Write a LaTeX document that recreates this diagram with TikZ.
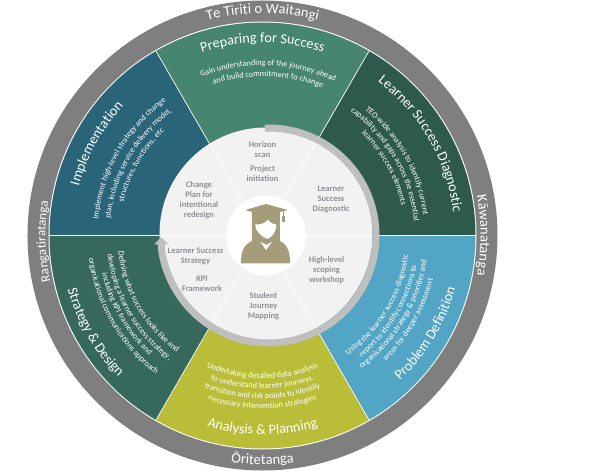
\documentclass[tikz,border=0pt]{standalone}
\usepackage{fontspec}
\usepackage{xcolor}
\usetikzlibrary{decorations.text,arrows.meta}
\setmainfont{Carlito}

\definecolor{ringgray}{HTML}{7F7F7F}
\definecolor{preparecol}{HTML}{46856F}
\definecolor{diagnosecol}{HTML}{2E5A4E}
\definecolor{problemcol}{HTML}{52A5C5}
\definecolor{analysiscol}{HTML}{B9BD38}
\definecolor{strategycol}{HTML}{36695C}
\definecolor{implementcol}{HTML}{2A6479}
\definecolor{discgray}{HTML}{F2F2F2}
\definecolor{arcgray}{HTML}{BFBFBF}
\definecolor{disctext}{HTML}{938E96}
\definecolor{icontan}{HTML}{A59C79}

\newcommand{\wheelring}{\fontsize{14.5}{14.5}\selectfont\color{white}}
\newcommand{\wheelsmallring}{\fontsize{13}{13}\selectfont\color{white}}
\newcommand{\wheeltitle}{\fontsize{14.2}{14.2}\selectfont\color{white}}
\newcommand{\wheelbody}{\fontsize{8.2}{8.2}\selectfont\color{white}}
\newcommand{\arclabel}[5]{%
  \path[decorate,decoration={text along path,text={|#1|#5},text align=center}]
    (#3+#4:#2) arc[start angle=#3+#4,end angle=#3-#4,radius=#2pt];}

\tikzset{
  disclabel/.style={align=center,text=disctext,font=\fontsize{8.5}{10}\selectfont\bfseries},
  spoke/.style={white,line width=0.7pt},
  wheelarc/.style={arcgray,line width=7pt,-{Triangle[width=14pt,length=7pt]}}
}

\begin{document}
\begin{tikzpicture}[x=1pt,y=1pt]
        \useasboundingbox (-262.5,-235.5) rectangle (337.5,235.5);

        % Outer ring
        \fill[ringgray] (0,0) circle (235pt);
        \fill[white] (0,0) circle (214pt);

        % Segments
        \foreach \ang/\col in {60/preparecol,0/diagnosecol,-60/problemcol,-120/analysiscol,-180/strategycol,120/implementcol}
          \fill[\col] (0,0) -- (\ang:213) arc[start angle=\ang,end angle=\ang+60,radius=213pt] -- cycle;

        % Inner disc and spokes
        \fill[discgray] (3.5,1.5) circle (106.5pt);
        \foreach \ang in {0,60,...,300}
          \draw[spoke] (0,0) -- (\ang:213);

        % Arrow round the disc
        \draw[wheelarc] (6,0) ++(92:107.5) arc[start angle=92,end angle=-179,radius=107.5pt];

        % Centre
        \fill[white] (3.5,0) circle (40pt);
        \begin{scope}[shift={(-36.5,40.5)},x=0.3333pt,y=-0.3333pt]
          \fill[icontan] (45,205) .. controls (45,170) and (52,150) .. (78,138) -- (78,50) -- (162,50) -- (162,138) .. controls (185,150) and (192,170) .. (192,205) -- cycle;
          \fill[icontan] (58,45) -- (120,27) -- (185,45) -- (120,63) -- cycle;
          \fill[white] (88,88) .. controls (105,90) and (118,84) .. (126,74) .. controls (132,84) and (142,88) .. (150,88) .. controls (152,110) and (140,125) .. (124,132) .. controls (108,125) and (88,112) .. (88,88) -- cycle;
          \fill[white] (103,140) -- (120,165) -- (138,140) -- (122,150) -- cycle;
          \fill[icontan] (170,46) rectangle (174,62);
          \fill[icontan] (168,62) rectangle (178,80);
        \end{scope}

        % Ring labels
        \arclabel{\wheelring}{222}{90}{70}{Te Tiriti o Waitangi}
        \arclabel{\wheelring}{218}{0}{40}{Kāwanatanga}
        \arclabel{\wheelring}{229}{-90}{-40}{Ōritetanga}
        \arclabel{\wheelsmallring}{217}{181.5}{40}{Rangatiratanga}

        % Segment titles
        \arclabel{\wheeltitle}{193}{90}{70}{Preparing for Success}
        \arclabel{\wheeltitle}{192}{30}{70}{Learner Success Diagnostic}
        \arclabel{\wheeltitle}{200}{-31}{-70}{Problem Definition}
        \arclabel{\wheeltitle}{199}{-90}{-70}{Analysis {\&} Planning}
        \arclabel{\wheeltitle}{202}{-150}{-70}{Strategy {\&} Design}
        \arclabel{\wheeltitle}{190}{151}{70}{Implementation}

        % Segment text
        \arclabel{\wheelbody}{170}{88}{70}{Gain understanding of the journey ahead}
        \arclabel{\wheelbody}{159}{88}{70}{and build commitment to change}

        \arclabel{\wheelbody}{162}{29}{70}{TEO-wide analysis to identify current}
        \arclabel{\wheelbody}{152}{30}{70}{capability and gaps across the essential}
        \arclabel{\wheelbody}{142}{29}{70}{learner success elements}

        \arclabel{\wheelbody}{147}{-31}{-70}{Using the learner success diagnostic}
        \arclabel{\wheelbody}{157}{-31}{-70}{report to identify connections to}
        \arclabel{\wheelbody}{166}{-31}{-70}{organisational strategy {\&} priorities and}
        \arclabel{\wheelbody}{176}{-30}{-70}{areas for deeper assessment}

        \arclabel{\wheelbody}{143}{-90}{-70}{Undertaking detailed data analysis}
        \arclabel{\wheelbody}{153}{-90}{-70}{to understand learner journeys,}
        \arclabel{\wheelbody}{163}{-90}{-70}{transition and risk points to identify}
        \arclabel{\wheelbody}{173}{-90}{-70}{necessary intervention strategies}

        \arclabel{\wheelbody}{145}{-150}{-70}{Defining what success looks like and}
        \arclabel{\wheelbody}{156}{-150}{-70}{developing a learner success strategy,}
        \arclabel{\wheelbody}{165}{-150}{-70}{including KPI framework and}
        \arclabel{\wheelbody}{175}{-150}{-70}{organisational communications approach}

        \arclabel{\wheelbody}{165}{150}{70}{Implement high-level strategy and change}
        \arclabel{\wheelbody}{153}{150}{70}{plan, including service delivery model,}
        \arclabel{\wheelbody}{143}{150}{70}{structures, functions, etc}

        % Disc labels
        \node[disclabel] (horizon) at (0,86) {Horizon\\scan};
        \node[disclabel] (project) at (0,61.5) {Project\\initiation};
        \node[disclabel] (diagnostic) at (68.5,36) {Learner\\Success\\Diagnostic};
        \node[disclabel] (scoping) at (64,-35) {High-level\\scoping\\workshop};
        \node[disclabel] (journey) at (1,-70.5) {Student\\Journey\\Mapping};
        \node[disclabel] (strategy) at (-67,-21) {Learner Success\\Strategy};
        \node[disclabel] (kpi) at (-60.5,-48) {KPI\\Framework};
        \node[disclabel] (change) at (-63.5,35) {Change\\Plan for\\intentional\\redesign};

    \end{tikzpicture}
\end{document}
